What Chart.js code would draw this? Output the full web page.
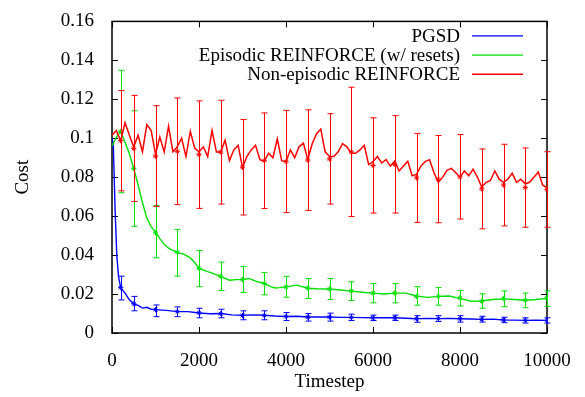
<!DOCTYPE html>
<html>
<head>
<meta charset="utf-8">
<script src="https://cdn.jsdelivr.net/npm/chart.js@4.4.1/dist/chart.umd.min.js"></script>
<style>
  html,body{margin:0;padding:0;background:#fff;}
  #wrap{width:585px;height:397px;position:relative;}
</style>
</head>
<body>
<div id="wrap"><canvas id="c" width="585" height="397"></canvas></div>
<script>
// series labels + colours
const seriesNames=['PGSD','Episodic REINFORCE (w/ resets)','Non-episodic REINFORCE'];
const seriesColors=['#0000ff','#00e000','#ff0000'];

// PGSD curve
const pgsdT=[0,30,70,110,150,200,300,400,500,600,700,800,900,1000,1250,1500,1750,2000,2250,2500,2750,3000,3250,3500,3750,4000,4250,4500,4750,5000,5250,5500,5750,6000,6250,6500,6750,7000,7250,7500,7750,8000,8250,8500,8750,9000,9250,9500,9750,10000];
const pgsdCost=[0.100,0.097,0.064,0.040,0.029,0.0233,0.0205,0.017,0.015,0.0142,0.0128,0.0132,0.0122,0.0120,0.0116,0.0110,0.0110,0.0103,0.0099,0.0100,0.0093,0.0091,0.0093,0.0091,0.0087,0.0085,0.0086,0.0082,0.0083,0.0082,0.0080,0.0080,0.0079,0.0078,0.0078,0.0078,0.0076,0.0073,0.0075,0.0074,0.0075,0.0073,0.0072,0.0070,0.0071,0.0067,0.0066,0.0065,0.0066,0.0065];

// Episodic REINFORCE curve
const epiT=[0,100,200,300,400,500,600,700,800,900,1000,1100,1200,1300,1500,1650,1800,1900,2000,2200,2350,2500,2700,2850,3000,3150,3300,3500,3650,3750,3850,4000,4250,4500,4700,5000,5250,5500,5750,6000,6250,6500,6750,7000,7250,7500,7750,8000,8250,8500,8750,9000,9250,9500,9750,10000];
const epiCost=[0.096,0.1005,0.1035,0.098,0.092,0.0845,0.076,0.067,0.059,0.0545,0.052,0.0485,0.0455,0.0436,0.0413,0.0405,0.0386,0.0362,0.0332,0.0315,0.0304,0.029,0.0271,0.0274,0.0275,0.028,0.0266,0.0254,0.0238,0.0231,0.0233,0.0237,0.0246,0.023,0.0227,0.0226,0.0221,0.0215,0.0209,0.0205,0.020,0.0205,0.0205,0.019,0.0183,0.0188,0.019,0.0178,0.0163,0.0164,0.0172,0.0175,0.0172,0.0168,0.0172,0.0178];

// Non-episodic REINFORCE curve, one value every 100 steps
const nonStep=100;
const nonCost=[0.1015,0.104,0.0986,0.108,0.1015,0.0956,0.1015,0.093,0.107,0.104,
0.0918,0.1006,0.093,0.1062,0.093,0.0956,0.100,0.0906,0.1035,0.095,
0.093,0.0956,0.0906,0.104,0.093,0.093,0.099,0.0885,0.094,0.0964,
0.0849,0.0906,0.094,0.0964,0.089,0.0882,0.0923,0.090,0.0997,0.0885,
0.088,0.094,0.090,0.0956,0.0975,0.089,0.097,0.1022,0.1047,0.093,
0.0906,0.0906,0.093,0.0972,0.0956,0.0923,0.0923,0.094,0.0964,0.0865,
0.088,0.0906,0.0873,0.089,0.0857,0.0882,0.0832,0.0857,0.0882,0.0807,
0.0815,0.0857,0.088,0.089,0.0824,0.0774,0.0799,0.0835,0.0845,0.0824,
0.0799,0.0832,0.0807,0.0841,0.080,0.075,0.0774,0.0783,0.0832,0.079,
0.0774,0.079,0.082,0.0774,0.079,0.0766,0.0774,0.080,0.0827,0.076,
0.0745];
const nonT=nonCost.map((_,i)=>i*nonStep);

// error bars (mean, low, high) at these timesteps
const errT=[200,500,1000,1500,2000,2500,3000,3500,4000,4500,5000,5500,6000,6500,7000,7500,8000,8500,9000,9500,10000];
const pgsdMean=[0.0233,0.0150,0.0120,0.0110,0.0104,0.0099,0.0090,0.0090,0.0085,0.0082,0.0082,0.0080,0.0078,0.0078,0.0073,0.0074,0.0073,0.0071,0.0067,0.0065,0.0065];
const pgsdLo=[0.0170,0.0114,0.0084,0.0084,0.0078,0.0078,0.0068,0.0068,0.0064,0.0061,0.0061,0.0064,0.0064,0.0064,0.0055,0.0059,0.0056,0.0056,0.0053,0.0051,0.0051];
const pgsdHi=[0.0292,0.0188,0.0144,0.0134,0.0127,0.0122,0.0114,0.0114,0.0105,0.0100,0.0102,0.0097,0.0092,0.0092,0.0089,0.0089,0.0089,0.0086,0.0081,0.0078,0.0078];
const epiMean=[0.1035,0.0845,0.0514,0.0415,0.0332,0.0291,0.0274,0.0254,0.0236,0.0231,0.0226,0.0216,0.0205,0.0205,0.0188,0.0188,0.0180,0.0163,0.0177,0.0168,0.0180];
const epiLo=[0.0720,0.0548,0.0386,0.0292,0.0238,0.0218,0.0208,0.0196,0.0184,0.0177,0.0172,0.0167,0.0155,0.0155,0.0143,0.0143,0.0139,0.0127,0.0135,0.0130,0.0137];
const epiHi=[0.1349,0.1141,0.0655,0.0532,0.0424,0.0364,0.0342,0.0311,0.0291,0.0280,0.0280,0.0263,0.0254,0.0254,0.0238,0.0233,0.0218,0.0201,0.0216,0.0205,0.0216];
const nonMean=[0.0988,0.0948,0.0908,0.0933,0.0916,0.0929,0.0851,0.0885,0.0880,0.0888,0.0894,0.0930,0.0860,0.0866,0.0797,0.0790,0.0802,0.0740,0.0760,0.0747,0.0737];
const nonLo=[0.0730,0.0675,0.0650,0.0659,0.0640,0.0662,0.0606,0.0639,0.0618,0.0629,0.0662,0.0598,0.0616,0.0616,0.0568,0.0566,0.0585,0.0535,0.0550,0.0543,0.0543];
const nonHi=[0.1245,0.1220,0.1167,0.1207,0.1192,0.1195,0.1096,0.1130,0.1143,0.1146,0.1126,0.1262,0.1105,0.1116,0.1025,0.1014,0.1019,0.0945,0.0969,0.0950,0.0931];

// axis ticks
const xTicks=[0,2000,4000,6000,8000,10000];
const yTicks=[0,0.02,0.04,0.06,0.08,0.1,0.12,0.14,0.16];

const FONT='"Liberation Serif", "DejaVu Serif", serif';
const FS=19;

const pts=(xs,ys)=>xs.map((x,i)=>({x,y:ys[i]}));
const curves=[pts(pgsdT,pgsdCost),pts(epiT,epiCost),pts(nonT,nonCost)];
const means=[pts(errT,pgsdMean),pts(errT,epiMean),pts(errT,nonMean)];
const bars=[[pgsdLo,pgsdHi],[epiLo,epiHi],[nonLo,nonHi]];

const datasets=[];
seriesNames.forEach((name,i)=>{
  datasets.push({label:name,data:curves[i],borderColor:seriesColors[i],borderWidth:i===2?1.5:1.4,pointRadius:0,tension:0,order:(3-i)*2,series:i});
  datasets.push({label:name+' err',data:means[i],showLine:false,pointStyle:'star',pointRadius:2.6,pointBorderWidth:1,
    borderColor:seriesColors[i],backgroundColor:seriesColors[i],order:(3-i)*2-1,series:i,isErr:true});
});

// error bars drawn right after each marker dataset
const errorBars={
  id:'errorBars',
  afterDatasetDraw(chart,args){
    const ds=chart.data.datasets[args.index];
    if(!ds.isErr) return;
    const {ctx,chartArea:a}=chart; const xs=chart.scales.x, ys=chart.scales.y;
    const [lo,hi]=bars[ds.series];
    ctx.save();
    ctx.beginPath(); ctx.rect(a.left-4,a.top,a.right-a.left+8,a.bottom-a.top); ctx.clip();
    ctx.strokeStyle=ds.borderColor; ctx.lineWidth=1;
    errT.forEach((t,i)=>{
      const x=Math.round(xs.getPixelForValue(t))+0.5;
      const y1=ys.getPixelForValue(lo[i]), y2=ys.getPixelForValue(hi[i]);
      ctx.beginPath();
      ctx.moveTo(x,y1); ctx.lineTo(x,y2);
      ctx.moveTo(x-3,y1); ctx.lineTo(x+3,y1);
      ctx.moveTo(x-3,y2); ctx.lineTo(x+3,y2);
      ctx.stroke();
    });
    ctx.restore();
  }
};

// gnuplot-ish frame with inward ticks on all four sides
const frame={
  id:'frame',
  beforeDatasetsDraw(chart){
    const {ctx,chartArea:a}=chart; const xs=chart.scales.x, ys=chart.scales.y;
    ctx.save();
    ctx.strokeStyle='#000'; ctx.lineWidth=1.5;
    ctx.strokeRect(a.left,a.top,a.right-a.left,a.bottom-a.top);
    ctx.lineWidth=1;
    ctx.beginPath();
    xTicks.forEach(v=>{
      const x=Math.round(xs.getPixelForValue(v))+0.5;
      ctx.moveTo(x,a.bottom); ctx.lineTo(x,a.bottom-6);
      ctx.moveTo(x,a.top); ctx.lineTo(x,a.top+6);
    });
    yTicks.forEach(v=>{
      const y=Math.round(ys.getPixelForValue(v))+0.5;
      ctx.moveTo(a.left,y); ctx.lineTo(a.left+6,y);
      ctx.moveTo(a.right,y); ctx.lineTo(a.right-6,y);
    });
    ctx.stroke();
    ctx.restore();
  }
};

// legend: right-aligned text, line sample on the right
const keyBox={
  id:'keyBox',
  afterDraw(chart){
    const {ctx,chartArea:a}=chart;
    const textRight=a.right-87, l1=a.right-75, l2=a.right-24;
    ctx.save();
    ctx.font=FS+'px '+FONT; ctx.fillStyle='#000';
    ctx.textAlign='right'; ctx.textBaseline='middle';
    seriesNames.forEach((n,i)=>{
      const y=a.top+14.5+i*19.2;
      ctx.fillText(n,textRight,y+1);
      ctx.strokeStyle=seriesColors[i]; ctx.lineWidth=1.4;
      ctx.beginPath(); ctx.moveTo(l1,y); ctx.lineTo(l2,y); ctx.stroke();
    });
    ctx.restore();
  }
};

new Chart(document.getElementById('c'),{
  type:'line',
  data:{datasets},
  options:{
    responsive:false,animation:false,
    layout:{padding:{left:0,right:38,top:10,bottom:0}},
    plugins:{legend:{display:false},tooltip:{enabled:false}},
    scales:{
      x:{type:'linear',min:0,max:10000,
        afterBuildTicks:s=>{s.ticks=xTicks.map(v=>({value:v}));},
        afterFit:s=>{s.height=64;},
        grid:{display:false},border:{display:false},
        ticks:{padding:9,color:'#000',font:{family:FONT,size:FS},callback:v=>String(v),maxRotation:0},
        title:{display:true,text:'Timestep',color:'#000',font:{family:FONT,size:FS},padding:{top:0,bottom:4}}},
      y:{type:'linear',min:0,max:0.16,
        afterBuildTicks:s=>{s.ticks=yTicks.map(v=>({value:v}));},
        afterFit:s=>{s.width=112;},
        grid:{display:false},border:{display:false},
        ticks:{padding:10,color:'#000',font:{family:FONT,size:FS},callback:v=>String(+v.toFixed(2))},
        title:{display:true,text:'Cost',color:'#000',font:{family:FONT,size:FS},padding:{top:12,bottom:0}}}
    }
  },
  plugins:[frame,errorBars,keyBox]
});
</script>
</body>
</html>
